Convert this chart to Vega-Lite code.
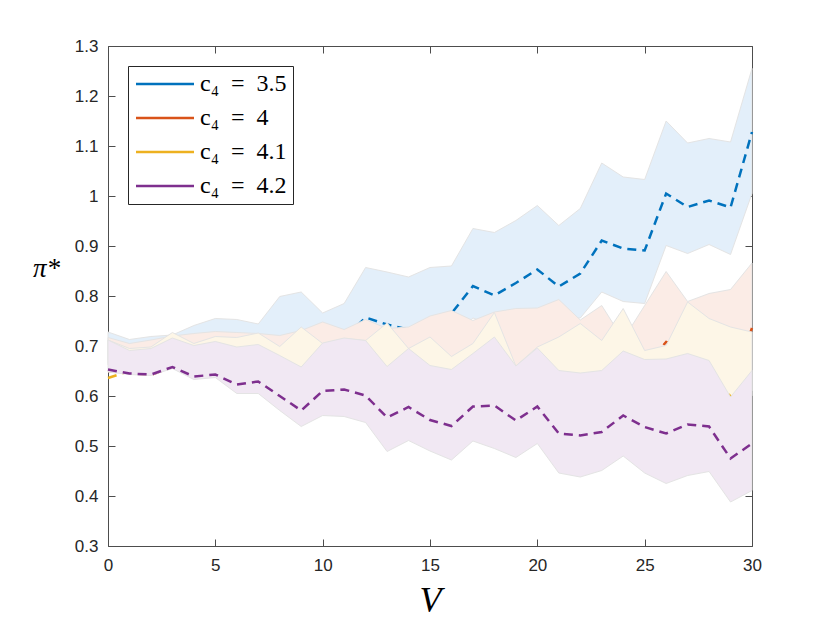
{
  "$schema": "https://vega.github.io/schema/vega-lite/v6.json",
  "width": 644,
  "height": 500,
  "autosize": "none",
  "padding": {"left": 108, "top": 46, "right": 78, "bottom": 77},
  "background": "white",
  "datasets": {
    "runs": [
      {"V": 0, "k": 3.5, "lo": 0.665, "mean": 0.690, "hi": 0.728},
      {"V": 1, "k": 3.5, "lo": 0.665, "mean": 0.688, "hi": 0.713},
      {"V": 2, "k": 3.5, "lo": 0.670, "mean": 0.692, "hi": 0.719},
      {"V": 3, "k": 3.5, "lo": 0.672, "mean": 0.695, "hi": 0.722},
      {"V": 4, "k": 3.5, "lo": 0.675, "mean": 0.700, "hi": 0.741},
      {"V": 5, "k": 3.5, "lo": 0.676, "mean": 0.703, "hi": 0.755},
      {"V": 6, "k": 3.5, "lo": 0.678, "mean": 0.705, "hi": 0.753},
      {"V": 7, "k": 3.5, "lo": 0.675, "mean": 0.702, "hi": 0.744},
      {"V": 8, "k": 3.5, "lo": 0.680, "mean": 0.712, "hi": 0.799},
      {"V": 9, "k": 3.5, "lo": 0.682, "mean": 0.715, "hi": 0.808},
      {"V": 10, "k": 3.5, "lo": 0.676, "mean": 0.712, "hi": 0.766},
      {"V": 11, "k": 3.5, "lo": 0.680, "mean": 0.716, "hi": 0.785},
      {"V": 12, "k": 3.5, "lo": 0.690, "mean": 0.757, "hi": 0.857},
      {"V": 13, "k": 3.5, "lo": 0.690, "mean": 0.743, "hi": 0.848},
      {"V": 14, "k": 3.5, "lo": 0.695, "mean": 0.733, "hi": 0.838},
      {"V": 15, "k": 3.5, "lo": 0.705, "mean": 0.752, "hi": 0.857},
      {"V": 16, "k": 3.5, "lo": 0.715, "mean": 0.765, "hi": 0.860},
      {"V": 17, "k": 3.5, "lo": 0.756, "mean": 0.820, "hi": 0.935},
      {"V": 18, "k": 3.5, "lo": 0.740, "mean": 0.801, "hi": 0.927},
      {"V": 19, "k": 3.5, "lo": 0.745, "mean": 0.826, "hi": 0.951},
      {"V": 20, "k": 3.5, "lo": 0.755, "mean": 0.853, "hi": 0.981},
      {"V": 21, "k": 3.5, "lo": 0.755, "mean": 0.819, "hi": 0.941},
      {"V": 22, "k": 3.5, "lo": 0.756, "mean": 0.845, "hi": 0.975},
      {"V": 23, "k": 3.5, "lo": 0.808, "mean": 0.911, "hi": 1.066},
      {"V": 24, "k": 3.5, "lo": 0.789, "mean": 0.895, "hi": 1.038},
      {"V": 25, "k": 3.5, "lo": 0.785, "mean": 0.891, "hi": 1.033},
      {"V": 26, "k": 3.5, "lo": 0.901, "mean": 1.005, "hi": 1.150},
      {"V": 27, "k": 3.5, "lo": 0.885, "mean": 0.978, "hi": 1.106},
      {"V": 28, "k": 3.5, "lo": 0.903, "mean": 0.991, "hi": 1.115},
      {"V": 29, "k": 3.5, "lo": 0.883, "mean": 0.977, "hi": 1.108},
      {"V": 30, "k": 3.5, "lo": 1.005, "mean": 1.128, "hi": 1.255},

      {"V": 0, "k": 4, "lo": 0.672, "mean": 0.650, "hi": 0.717},
      {"V": 1, "k": 4, "lo": 0.663, "mean": 0.646, "hi": 0.705},
      {"V": 2, "k": 4, "lo": 0.661, "mean": 0.642, "hi": 0.712},
      {"V": 3, "k": 4, "lo": 0.676, "mean": 0.658, "hi": 0.720},
      {"V": 4, "k": 4, "lo": 0.661, "mean": 0.652, "hi": 0.725},
      {"V": 5, "k": 4, "lo": 0.669, "mean": 0.656, "hi": 0.729},
      {"V": 6, "k": 4, "lo": 0.658, "mean": 0.650, "hi": 0.727},
      {"V": 7, "k": 4, "lo": 0.663, "mean": 0.655, "hi": 0.725},
      {"V": 8, "k": 4, "lo": 0.641, "mean": 0.660, "hi": 0.721},
      {"V": 9, "k": 4, "lo": 0.618, "mean": 0.655, "hi": 0.731},
      {"V": 10, "k": 4, "lo": 0.666, "mean": 0.665, "hi": 0.748},
      {"V": 11, "k": 4, "lo": 0.676, "mean": 0.668, "hi": 0.733},
      {"V": 12, "k": 4, "lo": 0.671, "mean": 0.665, "hi": 0.753},
      {"V": 13, "k": 4, "lo": 0.619, "mean": 0.670, "hi": 0.735},
      {"V": 14, "k": 4, "lo": 0.655, "mean": 0.665, "hi": 0.738},
      {"V": 15, "k": 4, "lo": 0.621, "mean": 0.672, "hi": 0.760},
      {"V": 16, "k": 4, "lo": 0.613, "mean": 0.668, "hi": 0.771},
      {"V": 17, "k": 4, "lo": 0.645, "mean": 0.675, "hi": 0.751},
      {"V": 18, "k": 4, "lo": 0.678, "mean": 0.680, "hi": 0.768},
      {"V": 19, "k": 4, "lo": 0.620, "mean": 0.645, "hi": 0.775},
      {"V": 20, "k": 4, "lo": 0.656, "mean": 0.670, "hi": 0.776},
      {"V": 21, "k": 4, "lo": 0.611, "mean": 0.680, "hi": 0.793},
      {"V": 22, "k": 4, "lo": 0.606, "mean": 0.685, "hi": 0.752},
      {"V": 23, "k": 4, "lo": 0.611, "mean": 0.680, "hi": 0.781},
      {"V": 24, "k": 4, "lo": 0.650, "mean": 0.690, "hi": 0.713},
      {"V": 25, "k": 4, "lo": 0.633, "mean": 0.660, "hi": 0.781},
      {"V": 26, "k": 4, "lo": 0.634, "mean": 0.708, "hi": 0.849},
      {"V": 27, "k": 4, "lo": 0.645, "mean": 0.695, "hi": 0.789},
      {"V": 28, "k": 4, "lo": 0.631, "mean": 0.700, "hi": 0.805},
      {"V": 29, "k": 4, "lo": 0.558, "mean": 0.620, "hi": 0.813},
      {"V": 30, "k": 4, "lo": 0.611, "mean": 0.736, "hi": 0.866},

      {"V": 0, "k": 4.1, "lo": 0.662, "mean": 0.636, "hi": 0.712},
      {"V": 1, "k": 4.1, "lo": 0.653, "mean": 0.650, "hi": 0.695},
      {"V": 2, "k": 4.1, "lo": 0.651, "mean": 0.652, "hi": 0.698},
      {"V": 3, "k": 4.1, "lo": 0.666, "mean": 0.665, "hi": 0.727},
      {"V": 4, "k": 4.1, "lo": 0.651, "mean": 0.660, "hi": 0.705},
      {"V": 5, "k": 4.1, "lo": 0.659, "mean": 0.665, "hi": 0.719},
      {"V": 6, "k": 4.1, "lo": 0.648, "mean": 0.655, "hi": 0.717},
      {"V": 7, "k": 4.1, "lo": 0.653, "mean": 0.660, "hi": 0.726},
      {"V": 8, "k": 4.1, "lo": 0.631, "mean": 0.645, "hi": 0.699},
      {"V": 9, "k": 4.1, "lo": 0.608, "mean": 0.630, "hi": 0.738},
      {"V": 10, "k": 4.1, "lo": 0.656, "mean": 0.655, "hi": 0.705},
      {"V": 11, "k": 4.1, "lo": 0.666, "mean": 0.660, "hi": 0.715},
      {"V": 12, "k": 4.1, "lo": 0.661, "mean": 0.650, "hi": 0.711},
      {"V": 13, "k": 4.1, "lo": 0.609, "mean": 0.625, "hi": 0.746},
      {"V": 14, "k": 4.1, "lo": 0.645, "mean": 0.640, "hi": 0.695},
      {"V": 15, "k": 4.1, "lo": 0.611, "mean": 0.630, "hi": 0.718},
      {"V": 16, "k": 4.1, "lo": 0.603, "mean": 0.620, "hi": 0.679},
      {"V": 17, "k": 4.1, "lo": 0.635, "mean": 0.640, "hi": 0.705},
      {"V": 18, "k": 4.1, "lo": 0.668, "mean": 0.650, "hi": 0.767},
      {"V": 19, "k": 4.1, "lo": 0.610, "mean": 0.620, "hi": 0.660},
      {"V": 20, "k": 4.1, "lo": 0.646, "mean": 0.640, "hi": 0.698},
      {"V": 21, "k": 4.1, "lo": 0.601, "mean": 0.610, "hi": 0.718},
      {"V": 22, "k": 4.1, "lo": 0.596, "mean": 0.615, "hi": 0.745},
      {"V": 23, "k": 4.1, "lo": 0.601, "mean": 0.620, "hi": 0.711},
      {"V": 24, "k": 4.1, "lo": 0.640, "mean": 0.640, "hi": 0.775},
      {"V": 25, "k": 4.1, "lo": 0.623, "mean": 0.625, "hi": 0.691},
      {"V": 26, "k": 4.1, "lo": 0.624, "mean": 0.630, "hi": 0.701},
      {"V": 27, "k": 4.1, "lo": 0.635, "mean": 0.640, "hi": 0.788},
      {"V": 28, "k": 4.1, "lo": 0.621, "mean": 0.635, "hi": 0.755},
      {"V": 29, "k": 4.1, "lo": 0.548, "mean": 0.600, "hi": 0.738},
      {"V": 30, "k": 4.1, "lo": 0.601, "mean": 0.530, "hi": 0.728},

      {"V": 0, "k": 4.2, "lo": 0.648, "mean": 0.653, "hi": 0.712},
      {"V": 1, "k": 4.2, "lo": 0.643, "mean": 0.645, "hi": 0.691},
      {"V": 2, "k": 4.2, "lo": 0.641, "mean": 0.643, "hi": 0.695},
      {"V": 3, "k": 4.2, "lo": 0.655, "mean": 0.658, "hi": 0.716},
      {"V": 4, "k": 4.2, "lo": 0.633, "mean": 0.639, "hi": 0.701},
      {"V": 5, "k": 4.2, "lo": 0.637, "mean": 0.643, "hi": 0.709},
      {"V": 6, "k": 4.2, "lo": 0.605, "mean": 0.623, "hi": 0.698},
      {"V": 7, "k": 4.2, "lo": 0.605, "mean": 0.629, "hi": 0.703},
      {"V": 8, "k": 4.2, "lo": 0.571, "mean": 0.600, "hi": 0.681},
      {"V": 9, "k": 4.2, "lo": 0.539, "mean": 0.571, "hi": 0.658},
      {"V": 10, "k": 4.2, "lo": 0.561, "mean": 0.610, "hi": 0.706},
      {"V": 11, "k": 4.2, "lo": 0.559, "mean": 0.613, "hi": 0.716},
      {"V": 12, "k": 4.2, "lo": 0.547, "mean": 0.601, "hi": 0.711},
      {"V": 13, "k": 4.2, "lo": 0.489, "mean": 0.557, "hi": 0.659},
      {"V": 14, "k": 4.2, "lo": 0.511, "mean": 0.578, "hi": 0.695},
      {"V": 15, "k": 4.2, "lo": 0.490, "mean": 0.552, "hi": 0.661},
      {"V": 16, "k": 4.2, "lo": 0.472, "mean": 0.540, "hi": 0.653},
      {"V": 17, "k": 4.2, "lo": 0.510, "mean": 0.579, "hi": 0.685},
      {"V": 18, "k": 4.2, "lo": 0.495, "mean": 0.581, "hi": 0.718},
      {"V": 19, "k": 4.2, "lo": 0.477, "mean": 0.551, "hi": 0.660},
      {"V": 20, "k": 4.2, "lo": 0.505, "mean": 0.579, "hi": 0.696},
      {"V": 21, "k": 4.2, "lo": 0.446, "mean": 0.525, "hi": 0.651},
      {"V": 22, "k": 4.2, "lo": 0.438, "mean": 0.521, "hi": 0.646},
      {"V": 23, "k": 4.2, "lo": 0.451, "mean": 0.528, "hi": 0.651},
      {"V": 24, "k": 4.2, "lo": 0.480, "mean": 0.561, "hi": 0.690},
      {"V": 25, "k": 4.2, "lo": 0.446, "mean": 0.538, "hi": 0.673},
      {"V": 26, "k": 4.2, "lo": 0.425, "mean": 0.525, "hi": 0.674},
      {"V": 27, "k": 4.2, "lo": 0.441, "mean": 0.543, "hi": 0.685},
      {"V": 28, "k": 4.2, "lo": 0.449, "mean": 0.539, "hi": 0.671},
      {"V": 29, "k": 4.2, "lo": 0.388, "mean": 0.475, "hi": 0.598},
      {"V": 30, "k": 4.2, "lo": 0.411, "mean": 0.505, "hi": 0.651}
    ]
  },
  "data": {"name": "runs"},
  "layer": [
    {
      "encoding": {
        "x": {
          "field": "V",
          "type": "quantitative",
          "scale": {"domain": [0, 30], "nice": false, "zero": false},
          "axis": {
            "orient": "bottom",
            "values": [0, 5, 10, 15, 20, 25, 30],
            "title": "V",
            "titleFont": "Liberation Serif",
            "titleFontStyle": "italic",
            "titleFontWeight": "normal",
            "titleFontSize": 36,
            "titleColor": "#000000",
            "titleBaseline": "alphabetic",
            "titleY": 65,
            "labelPadding": 18
          }
        }
      },
      "layer": [
        {
          "transform": [{"filter": "datum.k === 3.5"}],
          "mark": {"type": "area", "fill": "#e3effa", "stroke": "#e4e4e4", "strokeWidth": 1, "opacity": 1},
          "encoding": {
            "y": {
              "field": "lo",
              "type": "quantitative",
              "scale": {"domain": [0.3, 1.3], "nice": false, "zero": false},
              "axis": {
                "orient": "left",
                "values": [0.3, 0.4, 0.5, 0.6, 0.7, 0.8, 0.9, 1, 1.1, 1.2, 1.3],
                "format": ".1~f",
                "title": "π*",
                "titleFont": "Liberation Serif",
                "titleFontStyle": "italic",
                "titleFontWeight": "normal",
                "titleFontSize": 27,
                "titleColor": "#000000",
                "titleAngle": 0,
                "titleAlign": "center",
                "titleBaseline": "alphabetic",
                "titleX": -62,
                "titleY": 230,
                "labelPadding": 17
              }
            },
            "y2": {"field": "hi"}
          }
        },
        {
          "transform": [{"filter": "datum.k === 3.5"}],
          "mark": {"type": "line", "strokeWidth": 2.5, "strokeDash": [9, 6]},
          "encoding": {
            "y": {"field": "mean", "type": "quantitative", "scale": {"domain": [0.3, 1.3], "nice": false, "zero": false}, "title": "π*"},
            "color": {
              "field": "k",
              "type": "nominal",
              "scale": {"domain": [3.5, 4, 4.1, 4.2], "range": ["#0072BD", "#D95319", "#EDB120", "#7E2F8E"]},
              "legend": {"labelExpr": "'c₄\u2002=\u2002' + datum.label"}
            }
          }
        },
        {
          "transform": [{"filter": "datum.k === 4"}],
          "mark": {"type": "area", "fill": "#fbece6", "stroke": "#e4e4e4", "strokeWidth": 1, "opacity": 1},
          "encoding": {
            "y": {"field": "lo", "type": "quantitative", "scale": {"domain": [0.3, 1.3], "nice": false, "zero": false}, "title": "π*"},
            "y2": {"field": "hi"}
          }
        },
        {
          "transform": [{"filter": "datum.k === 4"}],
          "mark": {"type": "line", "strokeWidth": 2.5, "strokeDash": [9, 6]},
          "encoding": {
            "y": {"field": "mean", "type": "quantitative", "scale": {"domain": [0.3, 1.3], "nice": false, "zero": false}, "title": "π*"},
            "color": {"field": "k", "type": "nominal"}
          }
        },
        {
          "transform": [{"filter": "datum.k === 4.1"}],
          "mark": {"type": "area", "fill": "#fdf6e7", "stroke": "#e4e4e4", "strokeWidth": 1, "opacity": 1},
          "encoding": {
            "y": {"field": "lo", "type": "quantitative", "scale": {"domain": [0.3, 1.3], "nice": false, "zero": false}, "title": "π*"},
            "y2": {"field": "hi"}
          }
        },
        {
          "transform": [{"filter": "datum.k === 4.1"}],
          "mark": {"type": "line", "strokeWidth": 2.5, "strokeDash": [9, 6]},
          "encoding": {
            "y": {"field": "mean", "type": "quantitative", "scale": {"domain": [0.3, 1.3], "nice": false, "zero": false}, "title": "π*"},
            "color": {"field": "k", "type": "nominal"}
          }
        },
        {
          "transform": [{"filter": "datum.k === 4.2"}],
          "mark": {"type": "area", "fill": "#f1e8f3", "stroke": "#e4e4e4", "strokeWidth": 1, "opacity": 1},
          "encoding": {
            "y": {"field": "lo", "type": "quantitative", "scale": {"domain": [0.3, 1.3], "nice": false, "zero": false}, "title": "π*"},
            "y2": {"field": "hi"}
          }
        },
        {
          "transform": [{"filter": "datum.k === 4.2"}],
          "mark": {"type": "line", "strokeWidth": 2.5, "strokeDash": [9, 6]},
          "encoding": {
            "y": {"field": "mean", "type": "quantitative", "scale": {"domain": [0.3, 1.3], "nice": false, "zero": false}, "title": "π*"},
            "color": {"field": "k", "type": "nominal"}
          }
        }
      ]
    },
    {
      "mark": {"type": "point", "opacity": 0},
      "encoding": {
        "x": {
          "field": "V",
          "type": "quantitative",
          "scale": {"domain": [0, 30], "nice": false, "zero": false},
          "axis": {"orient": "top", "values": [0, 5, 10, 15, 20, 25, 30], "labels": false, "title": null}
        },
        "y": {
          "field": "mean",
          "type": "quantitative",
          "scale": {"domain": [0.3, 1.3], "nice": false, "zero": false},
          "axis": {"orient": "right", "values": [0.3, 0.4, 0.5, 0.6, 0.7, 0.8, 0.9, 1, 1.1, 1.2, 1.3], "labels": false, "title": null}
        }
      }
    }
  ],
  "resolve": {"axis": {"x": "independent", "y": "independent"}},
  "config": {
    "view": {"stroke": null},
    "axis": {
      "grid": false,
      "domainColor": "#4d4d4d",
      "domainWidth": 1,
      "tickColor": "#4d4d4d",
      "tickWidth": 1,
      "tickSize": -7,
      "labelFlush": false,
      "labelFont": "Liberation Sans",
      "labelFontSize": 17,
      "labelColor": "#262626"
    },
    "legend": {
      "orient": "none",
      "legendX": 20,
      "legendY": 20,
      "title": null,
      "symbolType": "M-1,0H4.8",
      "symbolSize": 400,
      "symbolStrokeWidth": 2.5,
      "symbolDash": [],
      "labelFont": "Liberation Serif",
      "labelFontSize": 24,
      "labelColor": "#000000",
      "labelOffset": 42,
      "fillColor": "white",
      "strokeColor": "#262626",
      "padding": 6,
      "rowPadding": 10
    }
  }
}
